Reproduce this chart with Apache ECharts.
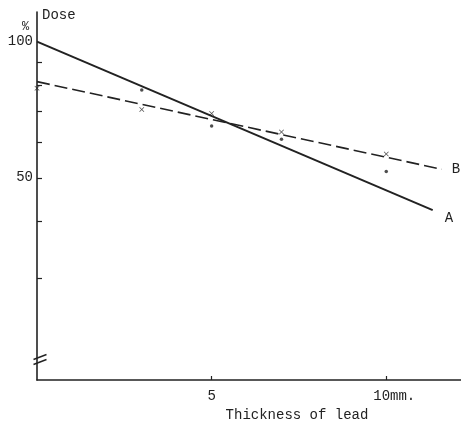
<!DOCTYPE html>
<html>
<head>
<meta charset="utf-8">
<script src="https://cdn.jsdelivr.net/npm/echarts@6/dist/echarts.min.js"></script>
<style>
  html, body { margin: 0; padding: 0; background: #fff; }
  #chart { width: 461px; height: 423px; }
</style>
</head>
<body>
<div id="chart"></div>
<script>
// fitted lines (thickness mm, dose %)
const lineAX = [0, 11.33];
const lineAY = [100, 42.4];
const lineBX = [0, 11.59];
const lineBY = [81.6, 52.2];

// measured points
const pointsAX = [3, 5, 7, 10];
const pointsAY = [78.2, 65.1, 60.8, 51.6];
const pointsBX = [0, 3, 5, 7, 10];
const pointsBY = [78.9, 70.8, 69.4, 63.1, 56.4];

// dose axis (log) ticks
const doseTicks = [100, 90, 80, 70, 60, 50, 40, 30];
const doseLabels = [100, 50];
const leadTicks = [5, 10];

const FONT = "Liberation Mono";
const INK = "#222";

const lg = v => Math.log10(v);
const pairs = (xs, ys) => xs.map((x, i) => [x, lg(ys[i])]);

const chart = echarts.init(document.getElementById("chart"));

chart.setOption({
    backgroundColor: "#fff",
    animation: false,
    grid: { left: 37, right: 0, top: 12, bottom: 43, outerBoundsMode: "none" },

    // =========================
    // X AXIS
    // =========================
    xAxis: {
        type: "value",
        min: 0,
        max: 12.14,
        name: "Thickness of lead",
        nameLocation: "middle",
        nameGap: 28,
        nameTextStyle: {
            fontFamily: FONT, fontSize: 14, color: INK,
            padding: [0, 0, 0, 96]
        },
        axisLine: { lineStyle: { color: INK, width: 1.6 } },
        axisTick: {
            inside: true, length: 4,
            customValues: leadTicks,
            lineStyle: { color: INK, width: 1.2 }
        },
        axisLabel: {
            customValues: leadTicks,
            margin: 9,
            fontFamily: FONT, fontSize: 14, color: INK,
            formatter: v => v === 10 ? "{u|10mm.}" : String(v),
            rich: { u: { fontFamily: FONT, fontSize: 14, color: INK, padding: [0, 0, 0, 16] } }
        },
        splitLine: { show: false }
    },

    // =========================
    // Y AXIS (log10 of dose)
    // =========================
    yAxis: {
        type: "value",
        min: 1.2515,
        max: 2.0657,
        name: "Dose",
        nameLocation: "end",
        nameGap: -3,
        nameTextStyle: {
            fontFamily: FONT, fontSize: 14, color: INK,
            align: "left", verticalAlign: "middle", padding: [0, 0, 0, 5]
        },
        axisLine: { show: true, lineStyle: { color: INK, width: 1.6 } },
        axisTick: {
            inside: true, length: 5,
            customValues: doseTicks.filter(v => v !== 100).map(lg),
            lineStyle: { color: INK, width: 1.2 }
        },
        axisLabel: {
            customValues: doseLabels.map(lg),
            margin: 4,
            fontFamily: FONT, fontSize: 14, color: INK,
            formatter: v => String(Math.round(Math.pow(10, v)))
        },
        splitLine: { show: false }
    },

    // =========================
    // SERIES
    // =========================
    series: [
        {
            name: "A",
            type: "line",
            data: pairs(lineAX, lineAY),
            symbol: "none",
            lineStyle: { color: INK, width: 2 },
            endLabel: {
                show: true, formatter: "A", offset: [4, 8],
                fontFamily: FONT, fontSize: 14, color: INK
            },
            z: 3
        },
        {
            name: "B",
            type: "line",
            data: pairs(lineBX, lineBY),
            symbol: "none",
            lineStyle: { color: INK, width: 1.6, type: [13, 5] },
            endLabel: {
                show: true, formatter: "B", offset: [2, 0],
                fontFamily: FONT, fontSize: 14, color: INK
            },
            z: 3
        },
        {
            name: "A points",
            type: "scatter",
            data: pairs(pointsAX, pointsAY),
            symbol: "circle",
            symbolSize: 3.5,
            itemStyle: { color: INK },
            z: 4
        },
        {
            name: "B points",
            type: "scatter",
            data: pairs(pointsBX, pointsBY),
            symbol: "path://M0,1L1,0L5,4L9,0L10,1L6,5L10,9L9,10L5,6L1,10L0,9L4,5Z",
            symbolSize: 5,
            itemStyle: { color: INK },
            z: 4
        }
    ],

    // =========================
    // UNIT + AXIS BREAK
    // =========================
    graphic: [
        {
            type: "text",
            left: 22, top: 21,
            style: { text: "%", font: "12px " + FONT, fill: INK }
        },
        {
            type: "group",
            left: 31, top: 352,
            children: [
                { type: "line", shape: { x1: 0, y1: 5, x2: 13, y2: 0 }, style: { stroke: INK, lineWidth: 1.4 } },
                { type: "line", shape: { x1: 0, y1: 10, x2: 13, y2: 5 }, style: { stroke: INK, lineWidth: 1.4 } }
            ]
        }
    ]
});
</script>
</body>
</html>
